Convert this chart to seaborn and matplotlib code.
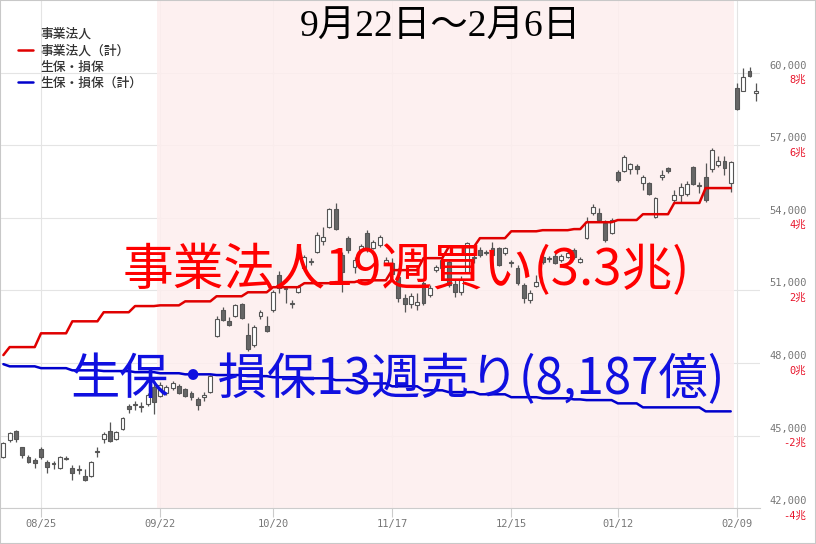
import numpy as np
import pandas as pd
import matplotlib
matplotlib.use("Agg")
import matplotlib.pyplot as plt
from matplotlib.lines import Line2D
from matplotlib.patches import Rectangle
from matplotlib.transforms import ScaledTranslation
import seaborn as sns

sns.set_style("white")
plt.rcParams['font.family'] = ['DejaVu Sans', 'Noto Sans CJK JP']

# 日足 08/15 ～ 02/13 (取引日ごと)
opens = [44120, 44820, 45200, 44540, 44120, 44000, 44450, 43910, 43870, 43670,
         44040, 43670, 43580, 43340, 43340, 44330, 44870, 45200, 44870, 45280,
         46230, 46270, 46190, 46310, 47020, 46640, 46770, 46980, 47060, 46930,
         46770, 46520, 46600, 46810, 49120, 50200, 49750, 49950, 50450, 49170,
         48750, 49950, 49540, 50200, 51650, 51070, 50450, 50940, 51940, 52190,
         52600, 53050, 53630, 54380, 52470, 53180, 51980, 52680, 53380, 52760,
         52890, 52140, 52140, 51560, 50700, 50450, 50410, 51320, 50820, 51850,
         51940, 52190, 51270, 50940, 51770, 52350, 52680, 52560, 52760, 52760,
         52560, 52140, 51940, 51230, 50610, 51190, 52390, 52310, 52430, 52270,
         52390, 52680, 52190, 53180, 54210, 54210, 53800, 53380, 55910, 55950,
         56030, 56150, 55450, 55450, 54050, 55700, 56070, 54750, 54960, 55000,
         56110, 55330, 55700, 56030, 56200, 56360, 55450, 59380, 59260, 60080,
         59170]
highs = [44740, 45160, 45240, 44540, 44200, 44080, 44540, 44000, 43960, 44160,
         44160, 43790, 43790, 43630, 43960, 44540, 45160, 45570, 45200, 45780,
         46310, 46440, 46400, 46770, 47180, 47220, 47100, 47260, 47140, 46980,
         46850, 46600, 46810, 47510, 49950, 50320, 49910, 50450, 50490, 49660,
         49580, 50200, 49950, 51030, 51810, 51150, 50610, 51230, 52470, 52350,
         53420, 53630, 54420, 54620, 52600, 53260, 52390, 52930, 53510, 53090,
         53300, 52390, 52350, 51940, 50860, 50900, 50900, 51400, 51230, 52060,
         52430, 52270, 51440, 51610, 53010, 52470, 52810, 52680, 53010, 52810,
         52810, 52270, 52060, 51320, 51030, 51650, 52470, 52430, 52560, 52520,
         52680, 52760, 52390, 54040, 54580, 54420, 53920, 54000, 55990, 56610,
         56280, 56240, 55780, 55490, 54870, 55990, 56110, 55160, 55450, 55540,
         56150, 55490, 56280, 56900, 56570, 56570, 56360, 59590, 60210, 60250,
         59590]
lows = [44080, 44740, 44740, 44080, 43870, 43670, 44040, 43460, 43630, 43630,
        44000, 43170, 43420, 43130, 43290, 44120, 44700, 44740, 44820, 45240,
        45940, 46070, 45980, 46230, 45900, 46600, 46690, 46890, 46730, 46600,
        46480, 46070, 46440, 46770, 49080, 49750, 49540, 49910, 49830, 48500,
        48670, 49830, 49290, 50120, 50900, 50490, 50280, 50900, 51850, 52060,
        52560, 52890, 53590, 53510, 50940, 52560, 51730, 52640, 52600, 52720,
        52810, 52100, 51520, 50530, 50120, 50280, 50200, 50410, 50740, 51770,
        51810, 51150, 50740, 50820, 51730, 52140, 52390, 52470, 52390, 52020,
        52470, 51980, 51230, 50490, 50490, 51150, 52100, 52190, 52100, 52190,
        52350, 52310, 52140, 53140, 54130, 53840, 53010, 53340, 55490, 55910,
        55820, 55820, 55160, 54960, 54000, 55580, 55870, 54670, 54670, 54910,
        55370, 55040, 54670, 55910, 56110, 55780, 55080, 58470, 59220, 59830,
        58840]
closes = [44700, 45110, 44870, 44200, 43910, 43870, 44120, 43710, 43830, 44120,
          44080, 43460, 43630, 43170, 43910, 44370, 45070, 44780, 45160, 45730,
          46110, 46310, 46230, 46690, 46400, 47100, 47020, 47180, 46770, 46640,
          46600, 46270, 46690, 47470, 49830, 49790, 49580, 50410, 49870, 48590,
          49500, 50120, 49330, 50940, 51110, 51110, 50490, 51150, 52390, 52230,
          53300, 53220, 54380, 53550, 51770, 52680, 52270, 52850, 52760, 53010,
          53220, 52270, 51690, 50700, 50450, 50780, 50530, 50490, 51110, 51980,
          52270, 51230, 50940, 51440, 52970, 52390, 52470, 52600, 52470, 52060,
          52760, 52190, 51320, 50700, 50900, 51360, 52190, 52350, 52140, 52430,
          52560, 52390, 52310, 53840, 54460, 53920, 53090, 53920, 55580, 56530,
          56240, 56030, 55700, 55000, 54830, 55780, 55950, 54960, 55290, 55410,
          55410, 55370, 54750, 56820, 56360, 56070, 56320, 58510, 59830, 59880,
          59220]

# x軸の目盛り (取引日の位置)
tick_idx = [6, 25, 43, 62, 81, 98, 117]
tick_labels = ['08/25', '09/22', '10/20', '11/17', '12/15', '01/12', '02/09']

# 投資主体別 週次累計 (兆円)
week_days = [1, 5, 5, 5, 5, 4, 4, 5, 5, 4, 5, 5, 4, 5, 5, 4, 5, 5, 5, 5, 2, 5, 4, 5, 5, 5]
corp_cum = [0.22, 0.44, 0.82, 1.15, 1.40, 1.57, 1.59, 1.70, 1.84, 1.95, 2.09, 2.20, 2.23,
            2.28, 2.56, 2.89, 3.19, 3.44, 3.63, 3.66, 3.69, 3.88, 3.94, 4.10, 4.41, 4.82]
ins_cum = [-0.03, -0.09, -0.14, -0.20, -0.22, -0.25, -0.28, -0.31, -0.33, -0.36, -0.39,
           -0.42, -0.47, -0.56, -0.64, -0.75, -0.80, -0.86, -0.94, -0.97, -1.00, -1.02,
           -1.11, -1.22, -1.22, -1.33]

price_ticks = [42000, 45000, 48000, 51000, 54000, 57000, 60000]
cho_ticks = [-4, -2, 0, 2, 4, 6, 8]
period = (25, 116)  # 9/22 ～ 2/6

title = '9月22日～2月6日'
msg_corp = '事業法人19週買い(3.3兆)'
msg_ins = '生保・損保13週売り(8,187億)'

ylim = (42000, 63000)
to_cho = lambda p: (p - 48000) / 1500

fig = plt.figure(figsize=(8.16, 5.44), dpi=100)
ax = fig.add_axes([1 / 816, 35.7 / 544, 759 / 816, 508.3 / 544])

df = pd.DataFrame({'open': opens, 'high': highs, 'low': lows, 'close': closes})
df['x'] = np.arange(len(df))
up = df['close'] >= df['open']

ax.axvspan(period[0] - 0.5, period[1] + 0.5, color='#fdeeee', alpha=0.85, zorder=1, lw=0)
ax.vlines(df['x'], df['low'], df['high'], color='#555555', lw=0.9, zorder=3)
ax.bar(df['x'], (df['close'] - df['open']).abs(), bottom=df[['open', 'close']].min(axis=1),
       width=0.62, color=np.where(up, 'white', '#666666'), edgecolor='#555555',
       linewidth=0.8, zorder=4)

ax.set_xlim(-0.38, 120.67)
ax.set_ylim(*ylim)
ax.set_xticks(tick_idx)
ax.set_xticklabels(tick_labels, family='DejaVu Sans Mono', fontsize=7.5, color='#777777')
ax.tick_params(axis='x', direction='out', length=6.5, width=0.8, color='#cccccc', pad=1.5, bottom=True)
ax.grid(True, color='#e4e4e4', lw=0.8, zorder=0)
ax.set_axisbelow(True)
for s in ['top', 'left', 'right']:
    ax.spines[s].set_visible(False)
ax.spines['bottom'].set_color('#cccccc')

# 累計フロー (兆円, 右軸)
ax2 = ax.twinx()
flow = pd.DataFrame({'x': np.arange(sum(week_days)),
                     '事業法人（計）': np.repeat(corp_cum, week_days),
                     '生保・損保（計）': np.repeat(ins_cum, week_days)})
long = flow.melt('x', var_name='series', value_name='v')
sns.lineplot(data=long, x='x', y='v', hue='series', ax=ax2, linewidth=1.8, legend=False,
             palette={'事業法人（計）': '#e00000', '生保・損保（計）': '#0000cc'})
ax2.set_ylim(to_cho(ylim[0]), to_cho(ylim[1]))
ax2.set_yticks(cho_ticks)
ax2.set_yticklabels([f'{v}兆' for v in cho_ticks], family=['DejaVu Sans Mono', 'Noto Sans CJK JP'],
                    fontsize=7.5, color='#e8142a', va='top', ha='right')
ax2.tick_params(axis='y', length=0, pad=33)
ax2.set_xlabel('')
ax2.set_ylabel('')
ax2.grid(False)
for s in ax2.spines.values():
    s.set_visible(False)

# 株価の目盛りも右側に
ax.set_yticks(price_ticks)
ax.set_yticklabels([f'{p:,}' for p in price_ticks], family='DejaVu Sans Mono',
                   fontsize=7.5, color='#777777', va='bottom')
ax.yaxis.tick_right()
ax.tick_params(axis='y', length=0, pad=7, labelright=True, labelleft=False, left=False)

# 2段ラベルの間隔を少し広げる
for lab in ax.get_yticklabels():
    lab.set_transform(lab.get_transform() + ScaledTranslation(0, 1.5 / 72, fig.dpi_scale_trans))
for lab in ax2.get_yticklabels():
    lab.set_transform(lab.get_transform() + ScaledTranslation(0, -1.5 / 72, fig.dpi_scale_trans))

handles = [Line2D([], [], color='none'), Line2D([], [], color='#e00000', lw=1.8),
           Line2D([], [], color='none'), Line2D([], [], color='#0000cc', lw=1.8)]
labels = ['事業法人', '事業法人（計）', '生保・損保', '生保・損保（計）']
leg = ax2.legend(handles, labels, loc='upper left', bbox_to_anchor=(18 / 816, 1 - 28 / 544),
                 bbox_transform=fig.transFigure, frameon=False,
                 handlelength=1.2, handletextpad=0.55, labelspacing=0.26,
                 borderaxespad=0, borderpad=0,
                 prop={'family': ['Noto Sans CJK JP'], 'size': 9.2, 'weight': 'medium'})
for t in leg.get_texts():
    t.set_color('#333333')

fig.text(440 / 816, 1 - 28 / 544, title, ha='center', va='center', fontsize=27,
         family=['Liberation Serif', 'Noto Sans CJK JP'], color='black')
fig.text(406 / 816, 1 - 271 / 544, msg_corp, ha='center', va='center', fontsize=36.5,
         family=['Noto Sans CJK JP'], color='#ff0000', zorder=10)
fig.text(397 / 816, 1 - 380 / 544, msg_ins, ha='center', va='center', fontsize=35.5,
         family=['Noto Sans CJK JP'], color='#1010e0', zorder=10)

fig.patches.append(Rectangle((0, 0), 1, 1, transform=fig.transFigure, fill=False,
                             edgecolor='#c8c8c8', lw=1.5))

fig.savefig('out.png', dpi=100)
